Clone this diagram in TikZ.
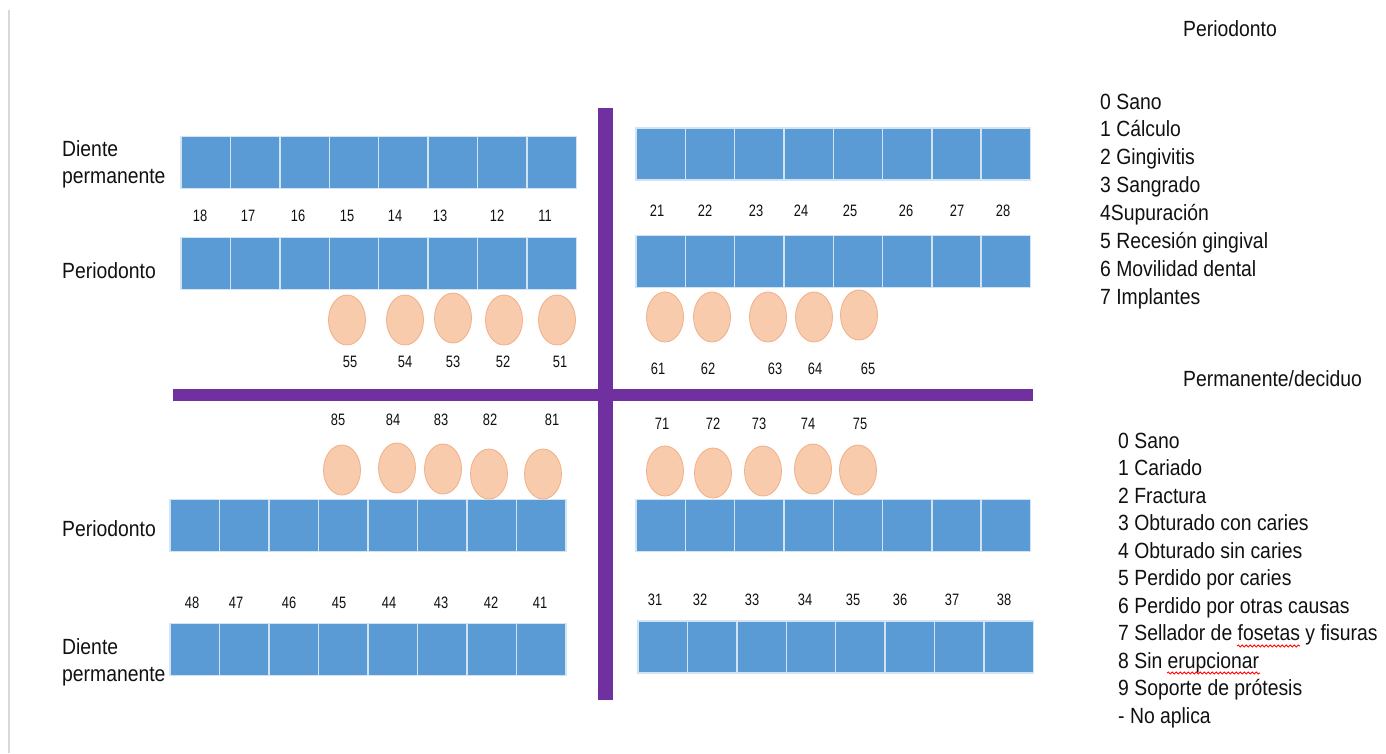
\documentclass[tikz,border=0pt]{standalone}
\usepackage{fontspec}
\setmainfont{Liberation Sans}[FakeStretch=0.88]
\newfontfamily\numfont{Liberation Sans}[FakeStretch=0.78]
\usetikzlibrary{shapes.geometric,decorations.pathmorphing}
\definecolor{cellblue}{HTML}{5B9BD5}
\definecolor{cellline}{HTML}{D2E3F4}
\definecolor{ovalfill}{HTML}{F8CBAD}
\definecolor{ovalline}{HTML}{F0B088}
\definecolor{barpurple}{HTML}{7030A0}
\definecolor{txt}{HTML}{111111}
\newcommand\toothrow[4]{%
  \foreach \i in {1,...,8}{%
    \node[cellbox, minimum width=#4] (#1\i) at ({#2+#4*(\i-0.5)},#3) {};}}
\begin{document}
\begin{tikzpicture}[x=1pt,y=-1pt,
  cellbox/.style={rectangle, fill=cellblue, draw=cellline, line width=1.4pt,
    minimum height=52pt, inner sep=0pt},
  oval/.style={ellipse, fill=ovalfill, draw=ovalline, line width=0.8pt,
    minimum width=37pt, minimum height=50pt, inner sep=0pt},
  numlbl/.style={text=txt, font=\numfont\fontsize{16.5}{18}\selectfont, inner sep=0pt},
  lbl/.style={text=txt, font=\fontsize{22}{27}\selectfont, inner sep=0pt, anchor=base west},
  twolbl/.style={text=txt, font=\fontsize{22}{27}\selectfont, inner sep=0pt, align=left, anchor=north west},
  squiggle/.style={red, line width=0.8pt, decorate, decoration={snake, amplitude=1.1pt, segment length=4pt}}
]
\useasboundingbox (0,0) rectangle (1386,753);
\fill[white] (0,0) rectangle (1386,753);
\draw[black!15, line width=2pt] (9,10) -- (9,753);

% tooth rows
\toothrow{TLd}{181}{162.5}{49.4}
\toothrow{TLp}{181}{263.5}{49.4}
\toothrow{TRd}{636}{154}{49.3}
\toothrow{TRp}{636}{261.5}{49.3}
\toothrow{BLp}{170}{525.5}{49.5}
\toothrow{BLd}{170}{649.5}{49.5}
\toothrow{BRp}{636}{525.5}{49.3}
\toothrow{BRd}{638}{647}{49.4}

% number labels
\foreach \n/\x in {18/200,17/248,16/298,15/347,14/395,13/440,12/497,11/545}
  \node[numlbl] (t\n) at (\x,216) {\n};
\foreach \n/\x in {21/657,22/705,23/756,24/801,25/850,26/906,27/957,28/1003}
  \node[numlbl] (t\n) at (\x,211) {\n};
\foreach \n/\x in {48/192,47/236,46/289,45/339,44/389,43/441,42/491,41/540}
  \node[numlbl] (t\n) at (\x,603) {\n};
\foreach \n/\x in {31/655,32/700,33/752,34/805,35/853,36/900,37/952,38/1004}
  \node[numlbl] (t\n) at (\x,600) {\n};
\foreach \n/\x in {55/350,54/405,53/453,52/503,51/560}
  \node[numlbl] (t\n) at (\x,362) {\n};
\foreach \n/\x in {61/658,62/708,63/775,64/815,65/868}
  \node[numlbl] (t\n) at (\x,369) {\n};
\foreach \n/\x in {85/338,84/393,83/441,82/490,81/552}
  \node[numlbl] (t\n) at (\x,420) {\n};
\foreach \n/\x in {71/662,72/713,73/759,74/808,75/860}
  \node[numlbl] (t\n) at (\x,424) {\n};

% ovals
\foreach \n/\x/\y in {55/347/320,54/405/320,53/453/318,52/504/320,51/557/320}
  \node[oval] (o\n) at (\x,\y) {};
\foreach \n/\x/\y in {61/665/317,62/712/317,63/768/317,64/814/317,65/859/315}
  \node[oval] (o\n) at (\x,\y) {};
\foreach \n/\x/\y in {85/342/470,84/397/468,83/443/469,82/489/474,81/543/474}
  \node[oval] (o\n) at (\x,\y) {};
\foreach \n/\x/\y in {71/665/471,72/713/473,73/763/471,74/813/469,75/858/470}
  \node[oval] (o\n) at (\x,\y) {};

% purple cross
\fill[barpurple] (173,389) rectangle (1033,401);
\fill[barpurple] (598,108) rectangle (613,700);

% row labels
\node[twolbl] (lTLd) at (62,140) {Diente\\permanente};
\node[lbl] (lTLp) at (62,278) {Periodonto};
\node[lbl] (lBLp) at (62,536) {Periodonto};
\node[twolbl] (lBLd) at (62,638) {Diente\\permanente};

% legend 1
\node[lbl] (h1) at (1183,36) {Periodonto};
\foreach \t [count=\k from 0] in {0 Sano,1 Cálculo,2 Gingivitis,3 Sangrado,4Supuración,5 Recesión gingival,6 Movilidad dental,7 Implantes}
  \node[lbl] (pa\k) at (1100,{109+27.86*\k}) {\t};

% legend 2
\node[lbl] (h2) at (1183,386) {Permanente/deciduo};
\foreach \t [count=\k from 0] in {0 Sano,1 Cariado,2 Fractura,3 Obturado con caries,4 Obturado sin caries,5 Perdido por caries,6 Perdido por otras causas,7 Sellador de fosetas y fisuras,8 Sin erupcionar,9 Soporte de prótesis,- No aplica}
  \node[lbl] (pd\k) at (1118,{448+27.5*\k}) {\t};

\draw[squiggle] (1237,646) -- (1300,646);
\draw[squiggle] (1167,673) -- (1260,673);
\end{tikzpicture}
\end{document}
